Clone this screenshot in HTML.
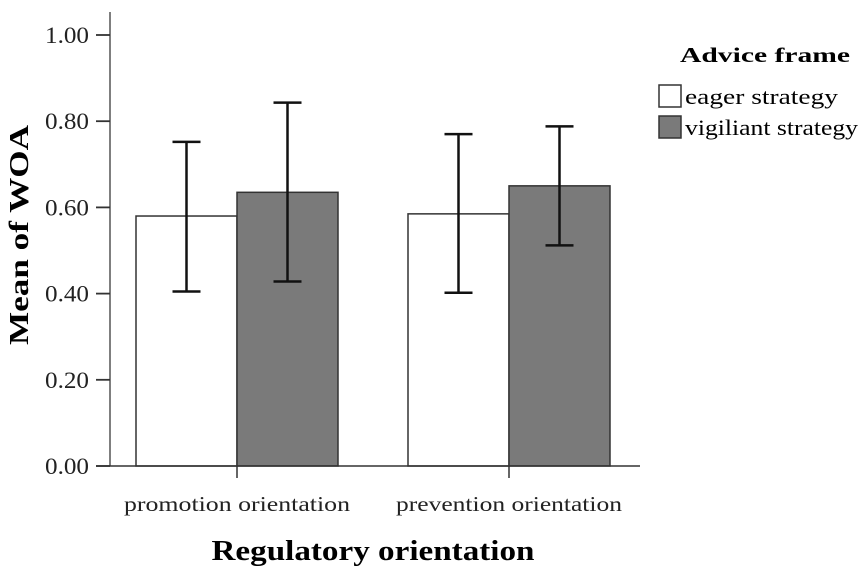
<!DOCTYPE html>
<html><head><meta charset="utf-8"><style>
body{margin:0;background:#fff;}
svg{display:block;font-family:"Liberation Serif",serif;}
</style></head><body>
<svg width="866" height="577" viewBox="0 0 866 577">
<g id="plot"></g>
<text x="28" y="235" transform="rotate(-90 28 235)" text-anchor="middle" font-size="27" font-weight="bold" textLength="220" lengthAdjust="spacingAndGlyphs">Mean of WOA</text>
<text x="373" y="560" text-anchor="middle" font-size="28" font-weight="bold" textLength="323" lengthAdjust="spacingAndGlyphs">Regulatory orientation</text>
<g>
<text x="680" y="62" font-size="21" font-weight="bold" textLength="170" lengthAdjust="spacingAndGlyphs">Advice frame</text>
<rect x="659" y="85" width="22" height="22" fill="#fff" stroke="#333" stroke-width="1.5"/>
<text x="685" y="104" font-size="22" textLength="153" lengthAdjust="spacingAndGlyphs">eager strategy</text>
<rect x="659" y="116" width="22" height="22" fill="#7a7a7a" stroke="#333" stroke-width="1.5"/>
<text x="685" y="135" font-size="22" textLength="173" lengthAdjust="spacingAndGlyphs">vigiliant strategy</text>
</g>
</svg>
<script>
const categories=["promotion orientation","prevention orientation"];
const eagerMeans=[0.58,0.585];
const eagerLow=[0.405,0.402];
const eagerHigh=[0.752,0.770];
const vigilantMeans=[0.635,0.65];
const vigilantLow=[0.428,0.512];
const vigilantHigh=[0.843,0.788];
const yTicks=[0,0.2,0.4,0.6,0.8,1.0];
const NS="http://www.w3.org/2000/svg";
const g=document.getElementById('plot');
const y=v=>466-v*431;
const catX=i=>237+i*272;
const barW=101;
function mk(t,a){const e=document.createElementNS(NS,t);for(const k in a)e.setAttribute(k,a[k]);g.appendChild(e);return e;}
let e;
e=mk('line',{x1:110,y1:12,x2:110,y2:466,stroke:'#555','stroke-width':1.5});


yTicks.forEach(v=>{
 e=mk('line',{x1:96,y1:y(v),x2:110,y2:y(v),stroke:'#333','stroke-width':1.8});
 
 
 e=mk('text',{x:45,y:y(v)+8,'font-size':23,fill:'#222',textLength:44,lengthAdjust:'spacingAndGlyphs'});
 e.textContent=v.toFixed(2);
 
 
});
function bar(x0,v,fill,name){
 e=mk('rect',{x:x0,y:y(v),width:barW,height:466-y(v),fill:fill,stroke:'#333','stroke-width':1.5});
 
 
}
function err(cx,lo,hi,name){
 e=mk('path',{d:`M${cx} ${y(hi)}V${y(lo)}M${cx-14} ${y(hi)}H${cx+14}M${cx-14} ${y(lo)}H${cx+14}`,stroke:'#111','stroke-width':2.5,fill:'none'});
 
 
}
categories.forEach((c,i)=>{
 const cx=catX(i);
 bar(cx-barW,eagerMeans[i],'#fff','bar-eager-'+i);
 bar(cx,vigilantMeans[i],'#7a7a7a','bar-vigilant-'+i);
 err(cx-barW/2,eagerLow[i],eagerHigh[i],'error-bar-eager-'+i);
 err(cx+barW/2,vigilantLow[i],vigilantHigh[i],'error-bar-vigilant-'+i);
 e=mk('line',{x1:cx,y1:466,x2:cx,y2:478,stroke:'#333','stroke-width':1.5});
 
 
 e=mk('text',{x:cx,y:511,'text-anchor':'middle','font-size':21,fill:'#222',textLength:226,lengthAdjust:'spacingAndGlyphs'});
 e.textContent=c;
 
 
});
e=mk('line',{x1:96,y1:466,x2:640,y2:466,stroke:'#333','stroke-width':1.5});


</script>
</body></html>
